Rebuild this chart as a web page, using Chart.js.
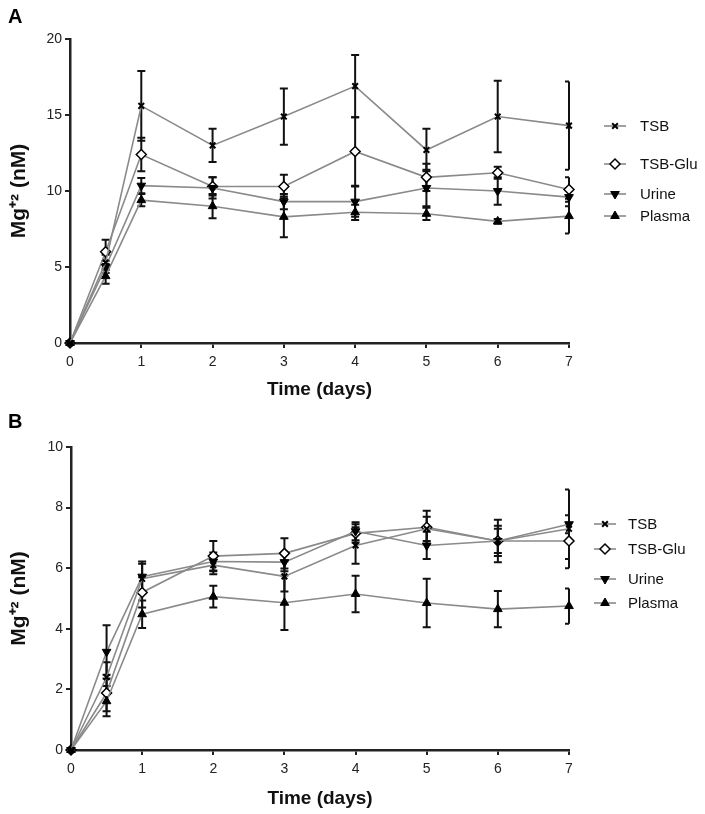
<!DOCTYPE html>
<html>
<head>
<meta charset="utf-8">
<script src="https://cdn.jsdelivr.net/npm/chart.js@4.4.1/dist/chart.umd.min.js"></script>
<style>
  body { margin: 0; background: #fff; }
  .panel { position: relative; width: 705px; }
  .tag { position: absolute; left: 8px; font: bold 20px "Liberation Sans", Arial, sans-serif; }
  canvas { display: block; }
</style>
</head>
<body>
<div class="panel"><span class="tag" style="top:5px">A</span><canvas id="chartA" width="705" height="405"></canvas></div>
<div class="panel"><span class="tag" style="top:5px">B</span><canvas id="chartB" width="705" height="409"></canvas></div>
<script>
// time points (days)
const days = [0, 0.5, 1, 2, 3, 4, 5, 6, 7];
const seriesNames = ['TSB', 'TSB-Glu', 'Urine', 'Plasma'];

// panel A: means and error bars
const tsbA    = [0, 5.3, 15.6, 13.0, 14.9, 16.9, 12.7, 14.9, 14.3];
const tsbGluA = [0, 6.0, 12.4, 10.3, 10.3, 12.6, 10.9, 11.2, 10.1];
const urineA  = [0, 5.0, 10.35, 10.2, 9.3, 9.3, 10.2, 10.0, 9.6];
const plasmaA = [0, 4.4, 9.4, 9.0, 8.3, 8.6, 8.5, 8.0, 8.35];
const tsbAErr    = [0, 0.5, 2.3, 1.1, 1.85, 2.05, 1.4, 2.35, 2.9];
const tsbGluAErr = [0, 0.8, 1.1, 0.6, 0.77, 2.26, 0.9, 0.4, 0.8];
const urineAErr  = [0, 0.4, 0.5, 0.7, 0.5, 1.0, 1.2, 0.9, 0.6];
const plasmaAErr = [0, 0.5, 0.4, 0.8, 1.34, 0.5, 0.4, 0.15, 1.14];

// panel B: means and error bars
const tsbB    = [0, 2.4, 5.65, 6.1, 5.73, 6.75, 7.3, 6.9, 7.3];
const tsbGluB = [0, 1.88, 5.2, 6.4, 6.49, 7.15, 7.35, 6.9, 6.9];
const urineB  = [0, 3.24, 5.72, 6.22, 6.2, 7.22, 6.75, 6.9, 7.45];
const plasmaB = [0, 1.61, 4.48, 5.06, 4.86, 5.15, 4.85, 4.65, 4.75];
const tsbBErr    = [0, 0.5, 0.5, 0.3, 0.5, 0.6, 0.4, 0.5, 1.3];
const tsbGluBErr = [0, 0.6, 0.5, 0.5, 0.5, 0.3, 0.55, 0.4, 0.6];
const urineBErr  = [0, 0.88, 0.5, 0.3, 0.3, 0.3, 0.45, 0.7, 0.3];
const plasmaBErr = [0, 0.5, 0.45, 0.36, 0.9, 0.6, 0.8, 0.6, 0.58];

const yTicksA = { max: 20, step: 5 };
const yTicksB = { max: 10, step: 2 };

const FONT = '"Liberation Sans", Arial, sans-serif';

// the hollow diamond sits under the filled markers
const markers = [
    { pointStyle: 'crossRot', radius: 4, rotation: 0, fill: '#000', width: 2, order: 1 },
    { pointStyle: 'rectRot', radius: 5, rotation: 0, fill: '#fff', width: 1.5, order: 4 },
    { pointStyle: 'triangle', radius: 5, rotation: 180, fill: '#000', width: 1, order: 2 },
    { pointStyle: 'triangle', radius: 5, rotation: 0, fill: '#000', width: 1, order: 3 }
];

function makeDatasets(values, errors) {
    return values.map((vals, i) => ({
        label: seriesNames[i],
        data: days.map((d, j) => ({ x: d, y: vals[j] })),
        errors: errors[i],
        order: markers[i].order,
        borderColor: '#8a8a8a',
        borderWidth: 1.6,
        pointStyle: markers[i].pointStyle,
        pointRadius: markers[i].radius,
        pointRotation: markers[i].rotation,
        pointBackgroundColor: markers[i].fill,
        pointBorderColor: '#000',
        pointBorderWidth: markers[i].width,
        tension: 0,
        fill: false,
        clip: false
    }));
}

// vertical error bars, drawn under the markers
const errorBars = {
    id: 'errorBars',
    beforeDatasetsDraw(chart) {
        const ctx = chart.ctx;
        const xs = chart.scales.x, ys = chart.scales.y;
        ctx.save();
        ctx.strokeStyle = '#111';
        ctx.lineWidth = 2;
        chart.data.datasets.forEach(ds => {
            ds.data.forEach((p, j) => {
                const e = ds.errors[j];
                if (!e) return;
                const px = xs.getPixelForValue(p.x);
                const top = ys.getPixelForValue(p.y + e);
                const bot = ys.getPixelForValue(p.y - e);
                const last = p.x === xs.max;
                const capL = px - 4, capR = last ? px : px + 4;
                ctx.beginPath();
                ctx.moveTo(px, top); ctx.lineTo(px, bot);
                ctx.moveTo(capL, top); ctx.lineTo(capR, top);
                ctx.moveTo(capL, bot); ctx.lineTo(capR, bot);
                ctx.stroke();
            });
        });
        ctx.restore();
    }
};

// legend on the right, with marker on a short line
const sideLegend = {
    id: 'sideLegend',
    afterDraw(chart) {
        const o = chart.options.plugins.sideLegend;
        const ctx = chart.ctx;
        ctx.save();
        chart.data.datasets.forEach((ds, i) => {
            const y = o.rows[i];
            ctx.strokeStyle = '#8a8a8a';
            ctx.lineWidth = 1.6;
            ctx.beginPath();
            ctx.moveTo(o.x - 11, y); ctx.lineTo(o.x + 11, y);
            ctx.stroke();
            ctx.fillStyle = markers[i].fill;
            ctx.strokeStyle = '#000';
            ctx.lineWidth = markers[i].width;
            Chart.helpers.drawPoint(ctx, {
                pointStyle: markers[i].pointStyle,
                radius: markers[i].radius,
                rotation: markers[i].rotation,
                borderWidth: markers[i].width
            }, o.x, y);
            ctx.fillStyle = '#111';
            ctx.font = '15px ' + FONT;
            ctx.textBaseline = 'middle';
            ctx.fillText(ds.label, o.textX, y + 1);
        });
        ctx.restore();
    }
};

function buildChart(id, values, errors, yt, layout) {
    return new Chart(document.getElementById(id), {
        type: 'line',
        data: { datasets: makeDatasets(values, errors) },
        plugins: [errorBars, sideLegend],
        options: {
            responsive: false,
            animation: false,
            layout: { padding: { top: layout.top, right: layout.right, left: 0, bottom: 0 } },
            plugins: {
                legend: { display: false },
                tooltip: { enabled: false },
                sideLegend: layout.legend
            },
            scales: {
                x: {
                    type: 'linear', min: 0, max: 7,
                    afterFit: s => { s.height = layout.xHeight; },
                    ticks: { stepSize: 1, color: '#222', font: { family: FONT, size: 14 }, padding: 6 },
                    grid: { drawOnChartArea: false, color: '#222', tickLength: 5, lineWidth: 2 },
                    border: { color: '#222', width: 2.5 },
                    title: { display: true, text: 'Time (days)', color: '#111',
                             font: { family: FONT, size: 19, weight: 'bold' }, padding: { top: 6, bottom: 4 } }
                },
                y: {
                    min: 0, max: yt.max,
                    afterFit: s => { s.width = layout.yWidth; },
                    ticks: { stepSize: yt.step, color: '#222', font: { family: FONT, size: 14 }, padding: 3 },
                    grid: { drawOnChartArea: false, color: '#222', tickLength: 5, lineWidth: 2 },
                    border: { color: '#222', width: 2.5 },
                    title: { display: true, text: 'Mg⁺² (nM)', color: '#111',
                             font: { family: FONT, size: 21, weight: 'bold' }, padding: { top: 7, bottom: 4 } }
                }
            }
        }
    });
}

buildChart('chartA',
    [tsbA, tsbGluA, urineA, plasmaA],
    [tsbAErr, tsbGluAErr, urineAErr, plasmaAErr],
    yTicksA,
    { top: 39, right: 136, xHeight: 62, yWidth: 70,
      legend: { x: 615, textX: 640, rows: [126, 164, 194, 216] } });

buildChart('chartB',
    [tsbB, tsbGluB, urineB, plasmaB],
    [tsbBErr, tsbGluBErr, urineBErr, plasmaBErr],
    yTicksB,
    { top: 42, right: 136, xHeight: 64, yWidth: 71,
      legend: { x: 605, textX: 628, rows: [119, 144, 174, 198] } });
</script>
</body>
</html>
